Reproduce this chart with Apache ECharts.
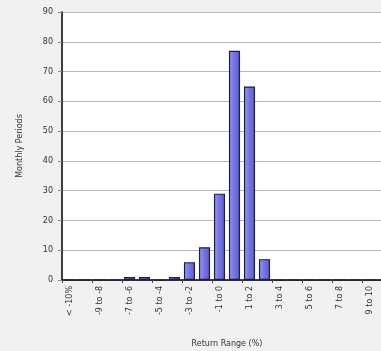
<!DOCTYPE html>
<html>
<head>
<meta charset="utf-8">
<script src="https://cdn.jsdelivr.net/npm/echarts@6/dist/echarts.min.js"></script>
<style>
  html, body { margin: 0; padding: 0; background: #f1f1f1; overflow: hidden; }
  /* the source plot is cut off at the right edge, so the canvas is wider than the window */
  #chart { width: 392px; height: 351px; }
</style>
</head>
<body>
<div id="chart"></div>
<script>
// categories (return range buckets)
var categories = ['< -10%', '-10 to -9', '-9 to -8', '-8 to -7', '-7 to -6', '-6 to -5',
    '-5 to -4', '-4 to -3', '-3 to -2', '-2 to -1', '-1 to 0', '0 to 1', '1 to 2',
    '2 to 3', '3 to 4', '4 to 5', '5 to 6', '6 to 7', '7 to 8', '8 to 9', '9 to 10', '> 10%'];
// monthly periods per bucket
var periods = [0, 0, 0, 0, 1, 1, 0, 1, 6, 11, 29, 77, 65, 7, 0, 0, 0, 0, 0, 0, 0, 0];
var yTicks = [0, 10, 20, 30, 40, 50, 60, 70, 80, 90];

var myChart = echarts.init(document.getElementById('chart'));
var labelFont = 'Tahoma, "DejaVu Sans", sans-serif';

var option = {
    backgroundColor: '#f1f1f1',
    animation: false,
    grid: {
        left: 62,
        right: 0,
        top: 12,
        bottom: 71,
        outerBoundsMode: 'none',
        show: true,
        backgroundColor: '#ffffff',
        borderWidth: 0
    },
    xAxis: {
        type: 'category',
        data: categories,
        name: 'Return Range (%)',
        nameLocation: 'middle',
        nameGap: 60,
        nameTextStyle: { fontSize: 8, color: '#333', fontFamily: labelFont },
        axisLine: { lineStyle: { color: '#000', width: 1.5 } },
        axisTick: { show: true, length: 3, lineStyle: { color: '#444' } },
        axisLabel: {
            interval: 1,
            rotate: 90,
            fontSize: 8,
            color: '#333',
            margin: 6,
            fontFamily: labelFont
        }
    },
    yAxis: {
        type: 'value',
        min: yTicks[0],
        max: yTicks[yTicks.length - 1],
        interval: 10,
        name: 'Monthly Periods',
        nameLocation: 'middle',
        nameGap: 38,
        nameTextStyle: { fontSize: 8, color: '#333', fontFamily: labelFont },
        axisLine: { show: true, lineStyle: { color: '#000', width: 1.5 } },
        axisTick: { show: true, length: 4, lineStyle: { color: '#888' } },
        axisLabel: { fontSize: 8, color: '#333', margin: 9, fontFamily: labelFont },
        splitLine: { lineStyle: { color: '#b8b8b8', width: 1 } }
    },
    series: [
        {
            type: 'bar',
            data: periods,
            barCategoryGap: '26%',
            itemStyle: {
                color: new echarts.graphic.LinearGradient(0, 0, 1, 0, [
                    { offset: 0, color: '#9c9cf2' },
                    { offset: 0.4, color: '#7a7ae6' },
                    { offset: 1, color: '#5a5ac8' }
                ]),
                borderColor: '#1e1e40',
                borderWidth: 1.2
            }
        }
    ]
};

myChart.setOption(option);
</script>
</body>
</html>
